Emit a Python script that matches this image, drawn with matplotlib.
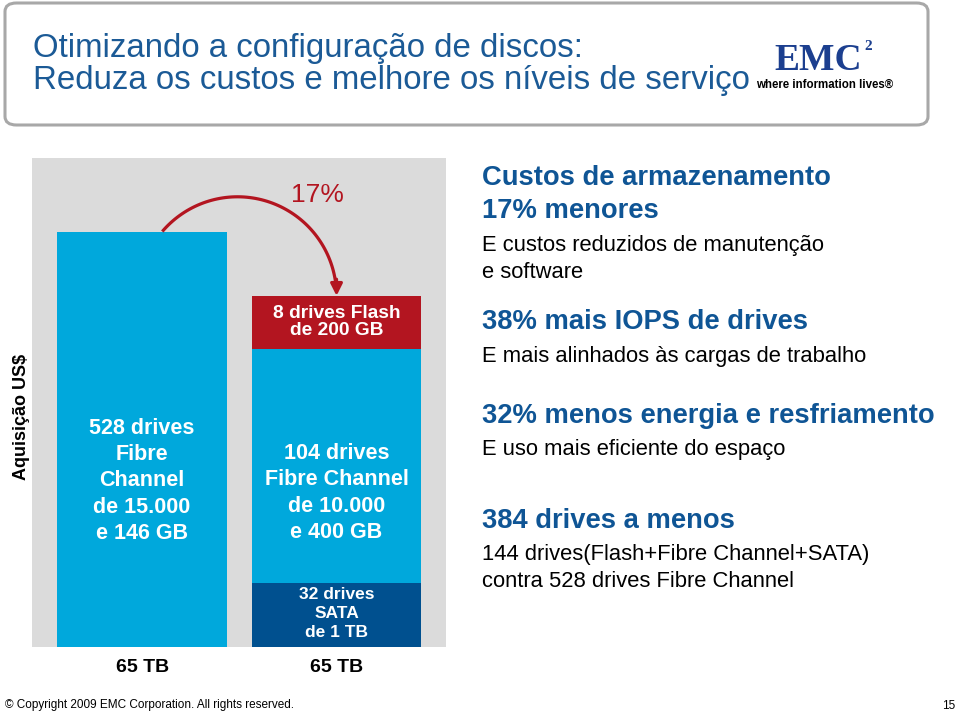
import numpy as np
import matplotlib
matplotlib.use("Agg")
import matplotlib.pyplot as plt
from matplotlib.patches import FancyBboxPatch

plt.rcParams['font.family'] = ['Liberation Sans', 'DejaVu Sans']

# data (acquisition cost, left bar = 100)
bar_names = ["antes", "depois"]
bar_caps = ["65 TB", "65 TB"]
left_value = 100.0
right_segments = ["SATA", "Fibre Channel", "Flash"]
right_values = [15.4, 56.4, 12.8]
left_label = "528 drives\nFibre\nChannel\nde 15.000\ne 146 GB"
right_labels = ["32 drives\nSATA\nde 1 TB",
                "104 drives\nFibre Channel\nde 10.000\ne 400 GB",
                "8 drives Flash\nde 200 GB"]
saving_label = "17%"

headers = ["Custos de armazenamento\n17% menores",
           "38% mais IOPS de drives",
           "32% menos energia e resfriamento",
           "384 drives a menos"]
details = ["E custos reduzidos de manutenção\ne software",
           "E mais alinhados às cargas de trabalho",
           "E uso mais eficiente do espaço",
           "144 drives(Flash+Fibre Channel+SATA)\ncontra 528 drives Fibre Channel"]

LIGHT = "#00A8DC"
DARK = "#00508F"
RED = "#B31520"
GRAY = "#DBDBDB"
TITLE_BLUE = "#1B5A96"
HEAD_BLUE = "#0F5595"

W, H = 960, 713
fig = plt.figure(figsize=(W / 100, H / 100), dpi=100)


def fx(x):
    return x / W


def fy(y):
    return 1 - y / H


# title box
box = FancyBboxPatch((fx(5), fy(125)), fx(923), 122 / H,
                     boxstyle="round,pad=0,rounding_size=0.012",
                     transform=fig.transFigure, facecolor="white",
                     edgecolor="#A8A8A8", lw=2.2, zorder=0)
fig.patches.append(box)
fig.text(fx(33), fy(49), "Otimizando a configuração de discos:", fontsize=23.8,
         color=TITLE_BLUE, va="center", ha="left")
fig.text(fx(33), fy(81), "Reduza os custos e melhore os níveis de serviço", fontsize=23.8,
         color=TITLE_BLUE, va="center", ha="left")

# EMC logo (as text)
fig.text(fx(818), fy(60), "EMC", fontsize=27, fontweight="bold", color="#1C3F8F",
         family=["Liberation Serif", "DejaVu Serif"], ha="center", va="center")
fig.text(fx(864), fy(47), "2", fontsize=11, fontweight="bold", color="#1C3F8F",
         family=["Liberation Serif", "DejaVu Serif"], ha="left", va="center")
fig.text(fx(825), fy(85), "where information lives\u00ae", fontsize=8.3, fontweight="bold",
         color="black", family=["Liberation Sans Narrow", "Liberation Sans"],
         ha="center", va="center")

# chart
ax = fig.add_axes([fx(32), 1 - 647 / H, 414 / W, 489 / H])
ax.set_facecolor(GRAY)
x = np.arange(len(bar_names))
width = 0.874
ax.bar(x[0], left_value, width=width, color=LIGHT, zorder=2)
seg_colors = [DARK, LIGHT, RED]
bottom = 0.0
for val, col in zip(right_values, seg_colors):
    ax.bar(x[1], val, width=width, bottom=bottom, color=col, zorder=2)
    bottom += val
right_total = bottom

ax.set_xlim(-0.566, 1.563)
ax.set_ylim(0, 117.8)
for s in ax.spines.values():
    s.set_visible(False)
ax.set_yticks([])
ax.set_xticks(x)
ax.set_xticklabels(bar_caps, fontsize=14, fontweight="bold")
ax.tick_params(axis="x", length=0, pad=9)
ax.set_ylabel("Aquisição US$", fontsize=13, fontweight="bold", labelpad=0)
ax.yaxis.set_label_coords(-0.004, 0.47)

lab_kw = dict(color="white", fontweight="bold", ha="center", va="center", zorder=3)
ax.text(x[0], 40, left_label, fontsize=15.5, linespacing=1.34, **lab_kw)
ax.text(x[1], 8.0, right_labels[0], fontsize=12.5, linespacing=1.33, **lab_kw)
ax.text(x[1], 37.1, right_labels[1], fontsize=15.5, linespacing=1.34, **lab_kw)
ax.text(x[1], right_values[0] + right_values[1] + right_values[2] / 2,
        right_labels[2], fontsize=13.8, linespacing=1.0, **lab_kw)

# curved arrow from left bar top to right bar top
px_x, px_y = 194.5, 4.15  # pixels per data unit
cx, cy = x[1] - 99 / px_x, right_total
t = np.linspace(np.deg2rad(139.5), np.deg2rad(4), 80)
ax.plot(cx + 99 / px_x * np.cos(t), cy + 99 / px_y * np.sin(t),
        color=RED, lw=2.3, zorder=4, solid_capstyle="butt")
ax.annotate("", xy=(x[1], right_total), xytext=(x[1], right_total + 4),
            arrowprops=dict(arrowstyle="-|>,head_length=0.7,head_width=0.35",
                            color=RED, lw=2.3, shrinkA=0, shrinkB=0), zorder=5)
ax.text(0.90, 109.0, saving_label, fontsize=19, color=RED, ha="center", va="center")

# right-hand text
head_y = [175, 319, 413, 518]
det_y = [243, 354, 447, 552]
for hy, txt in zip(head_y, headers):
    fig.text(fx(482), fy(hy - 10), txt, fontsize=19.7, fontweight="bold", color=HEAD_BLUE,
             ha="left", va="top", linespacing=1.33)
for dy, txt in zip(det_y, details):
    fig.text(fx(482), fy(dy - 8), txt, fontsize=15.8, color="black",
             ha="left", va="top", linespacing=1.4)

# footer
fig.text(fx(5), fy(705), "\u00a9 Copyright 2009 EMC Corporation. All rights reserved.",
         fontsize=8.5, ha="left", va="center")
fig.text(fx(955), fy(706), "15", fontsize=8.5, ha="right", va="center")

fig.savefig("out.png", dpi=100)
